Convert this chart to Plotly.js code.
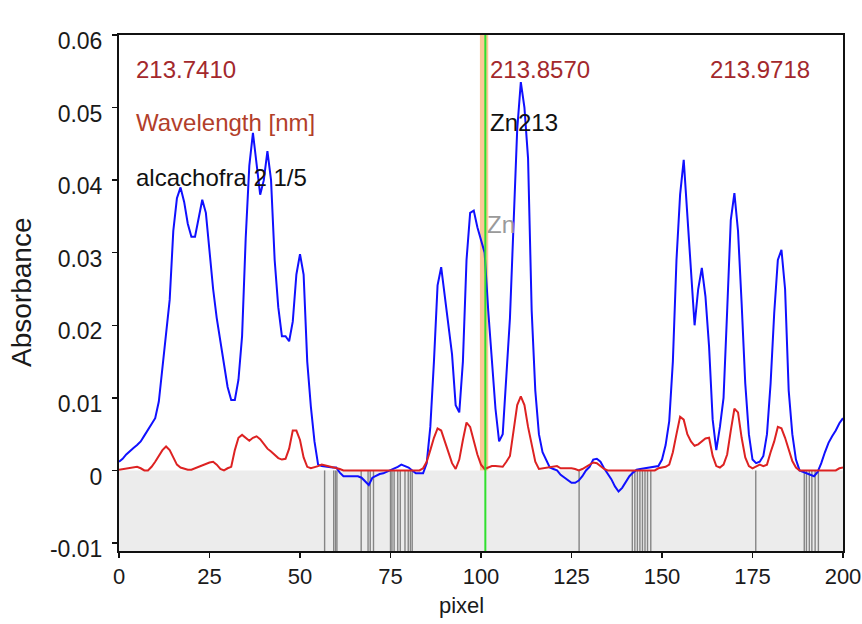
<!DOCTYPE html>
<html>
<head>
<meta charset="utf-8">
<script src="https://cdn.plot.ly/plotly-3.0.1.min.js"></script>
<style>
  html, body { margin: 0; padding: 0; background: #fff; }
  #chart { width: 862px; height: 624px; }
</style>
</head>
<body>
<div id="chart"></div>
<script>
// Detector pixel index 0..200
const pixels = Array.from({length: 201}, (_, i) => i);

// Sample spectrum (blue), absorbance per pixel
const sampleAbs = [
  0.0012, 0.0016, 0.0022, 0.0027, 0.0031, 0.0035, 0.0040, 0.0048, 0.0056, 0.0063,
  0.0072, 0.0095, 0.0140, 0.0185, 0.0235, 0.0330, 0.0375, 0.0390, 0.0370, 0.0340,
  0.0322, 0.0322, 0.0350, 0.0373, 0.0355, 0.0300, 0.0250, 0.0210, 0.0180, 0.0150,
  0.0115, 0.0097, 0.0097, 0.0125, 0.0185, 0.0320, 0.0420, 0.0465, 0.0420, 0.0380,
  0.0400, 0.0440, 0.0400, 0.0290, 0.0225, 0.0185, 0.0185, 0.0178, 0.0205, 0.0270,
  0.0298, 0.0270, 0.0150, 0.0088, 0.0040, 0.0008, 0.0006, 0.0005, 0.0005, 0.0004,
  0.0004, -0.0003, -0.0008, -0.0008, -0.0009, -0.0009, -0.0008, -0.0010, -0.0015, -0.0020,
  -0.0010, -0.0007, -0.0005, -0.0004, -0.0002, 0.0000, 0.0002, 0.0005, 0.0008, 0.0006,
  0.0004, 0.0000, -0.0004, -0.0004, -0.0004, 0.0010, 0.0060, 0.0150, 0.0255, 0.0280,
  0.0240, 0.0200, 0.0160, 0.0090, 0.0080, 0.0150, 0.0290, 0.0355, 0.0358, 0.0335,
  0.0318, 0.0300, 0.0220, 0.0155, 0.0085, 0.0040, 0.0050, 0.0130, 0.0210, 0.0340,
  0.0470, 0.0535, 0.0500, 0.0430, 0.0220, 0.0110, 0.0050, 0.0025, 0.0015, 0.0004,
  0.0002, 0.0000, -0.0006, -0.0010, -0.0014, -0.0017, -0.0017, -0.0014, -0.0008, 0.0000,
  0.0005, 0.0015, 0.0016, 0.0012, 0.0003, -0.0005, -0.0012, -0.0022, -0.0029, -0.0024,
  -0.0015, -0.0008, -0.0003, 0.0001, 0.0002, 0.0003, 0.0004, 0.0004, 0.0005, 0.0006,
  0.0015, 0.0035, 0.0068, 0.0150, 0.0290, 0.0380, 0.0428, 0.0350, 0.0270, 0.0200,
  0.0250, 0.0279, 0.0240, 0.0171, 0.0070, 0.0028, 0.0060, 0.0100, 0.0220, 0.0345,
  0.0382, 0.0330, 0.0230, 0.0120, 0.0050, 0.0015, 0.0010, 0.0012, 0.0020, 0.0050,
  0.0120, 0.0217, 0.0290, 0.0304, 0.0250, 0.0110, 0.0050, 0.0015, 0.0000, -0.0002,
  -0.0003, -0.0005, -0.0008, -0.0002, 0.0010, 0.0025, 0.0038, 0.0047, 0.0055, 0.0065,
  0.0072
];

// Reference / background spectrum (red)
const referenceAbs = [
  0.0001, 0.0002, 0.0003, 0.0004, 0.0005, 0.0005, 0.0003, 0.0000, 0.0000, 0.0005,
  0.0012, 0.0020, 0.0028, 0.0033, 0.0028, 0.0018, 0.0008, 0.0004, 0.0002, 0.0001,
  0.0001, 0.0003, 0.0005, 0.0008, 0.0010, 0.0011, 0.0012, 0.0008, 0.0002, 0.0000,
  0.0003, 0.0005, 0.0028, 0.0045, 0.0049, 0.0045, 0.0041, 0.0045, 0.0047, 0.0043,
  0.0036, 0.0030, 0.0026, 0.0022, 0.0017, 0.0015, 0.0016, 0.0030, 0.0055, 0.0055,
  0.0042, 0.0018, 0.0005, 0.0003, 0.0004, 0.0006, 0.0008, 0.0007, 0.0006, 0.0005,
  0.0004, 0.0002, 0.0000, 0.0000, 0.0000, 0.0000, 0.0000, 0.0000, 0.0000, 0.0000,
  0.0000, 0.0000, 0.0000, 0.0000, 0.0000, 0.0000, 0.0000, 0.0000, 0.0000, 0.0000,
  0.0000, 0.0000, 0.0000, 0.0000, 0.0003, 0.0012, 0.0028, 0.0045, 0.0058, 0.0055,
  0.0040, 0.0026, 0.0010, 0.0002, 0.0015, 0.0042, 0.0066, 0.0060, 0.0042, 0.0022,
  0.0008, 0.0002, 0.0004, 0.0006, 0.0006, 0.0005, 0.0005, 0.0012, 0.0020, 0.0055,
  0.0090, 0.0102, 0.0090, 0.0060, 0.0035, 0.0012, 0.0002, 0.0003, 0.0003, 0.0004,
  0.0005, 0.0006, 0.0003, 0.0003, 0.0004, 0.0003, 0.0002, 0.0000, 0.0002, 0.0005,
  0.0008, 0.0011, 0.0010, 0.0006, 0.0002, 0.0000, 0.0000, 0.0000, 0.0000, 0.0000,
  0.0000, 0.0000, 0.0000, 0.0000, 0.0000, 0.0000, 0.0000, 0.0000, 0.0000, 0.0003,
  0.0004, 0.0005, 0.0008, 0.0025, 0.0050, 0.0074, 0.0070, 0.0050, 0.0040, 0.0034,
  0.0036, 0.0040, 0.0044, 0.0045, 0.0020, 0.0006, 0.0004, 0.0008, 0.0022, 0.0055,
  0.0085, 0.0080, 0.0045, 0.0018, 0.0006, 0.0003, 0.0005, 0.0008, 0.0006, 0.0008,
  0.0025, 0.0040, 0.0060, 0.0058, 0.0045, 0.0028, 0.0013, 0.0004, 0.0000, 0.0000,
  0.0000, 0.0000, 0.0000, 0.0000, 0.0000, 0.0000, 0.0000, 0.0000, 0.0000, 0.0003,
  0.0004
];

// Pixels flagged for baseline correction (grey markers below zero)
const baselinePixels = [
  56.8, 59.3, 59.8, 60.2, 66.9, 68.8, 69.4, 70.3, 75.0, 75.4, 76.0, 77.0, 77.7,
  79.0, 79.9, 80.5, 81.0, 127.1, 141.8, 142.5, 143.2, 143.9, 144.6, 145.3, 146.0,
  146.9, 175.9, 189.3, 189.9, 190.7, 191.4, 192.3, 193.2
];

// Analytical line position and its evaluation window
const linePixel = 101.2;
const lineWindow = [99.7, 102.0];

const yTickVals = [-0.01, 0, 0.01, 0.02, 0.03, 0.04, 0.05, 0.06];
const yTickText = ['-0.01', '0', '0.01', '0.02', '0.03', '0.04', '0.05', '0.06'];
const xTickVals = [0, 25, 50, 75, 100, 125, 150, 175, 200];

const yMin = -0.0111, yMax = 0.06;

// Build the baseline marker segments as one trace with gaps
const bx = [], by = [];
baselinePixels.forEach(p => { bx.push(p, p, null); by.push(0, yMin, null); });

const font = 'Liberation Sans, Arial, sans-serif';
const ink = '#1a1a1a';

const traces = [
  {
    x: bx, y: by, mode: 'lines', hoverinfo: 'skip',
    line: {color: '#858585', width: 1.4}
  },
  {
    x: pixels, y: sampleAbs, mode: 'lines',
    line: {color: '#1010ff', width: 2}
  },
  {
    x: pixels, y: referenceAbs, mode: 'lines',
    line: {color: '#dd2222', width: 2}
  }
];

const darkRed = '#a3282c';

// Text labels placed in paper coordinates of the plotting area
const labels = [
  {text: '213.7410', x: 0.021, y: 0.934, color: darkRed, size: 24},
  {text: 'Wavelength [nm]', x: 0.021, y: 0.8295, color: '#b23e2a', size: 24},
  {text: 'alcachofra 2 1/5', x: 0.021, y: 0.7248, color: '#111', size: 24},
  {text: '213.8570', x: 0.510, y: 0.934, color: darkRed, size: 24},
  {text: 'Zn213', x: 0.510, y: 0.8295, color: '#111', size: 24},
  {text: '213.9718', x: 0.814, y: 0.934, color: darkRed, size: 24},
  {text: 'Zn', x: 0.506, y: 0.6318, color: '#9a9a9a', size: 24}
];

const annotations = labels.map(a => ({
  text: a.text, x: a.x, y: a.y, xref: 'paper', yref: 'paper',
  xanchor: 'left', yanchor: 'middle', showarrow: false,
  font: {family: font, size: a.size, color: a.color}
}));

// Axis titles
annotations.push({
  text: 'pixel', x: 0.4724, y: -0.1047, xref: 'paper', yref: 'paper',
  xanchor: 'center', yanchor: 'middle', showarrow: false,
  font: {family: font, size: 22, color: ink}
});
annotations.push({
  text: 'Absorbance', x: -0.134, y: 0.502, xref: 'paper', yref: 'paper',
  xanchor: 'center', yanchor: 'middle', showarrow: false, textangle: -90,
  font: {family: font, size: 28, color: ink}
});

const layout = {
  width: 862, height: 624,
  margin: {l: 119, r: 19, t: 35, b: 73},
  paper_bgcolor: '#ffffff',
  plot_bgcolor: '#ffffff',
  showlegend: false,
  font: {family: font, color: ink},
  xaxis: {
    range: [0, 200],
    tickvals: xTickVals,
    ticks: 'outside', ticklen: 5, tickwidth: 1.5, tickcolor: '#111',
    tickfont: {size: 22, color: ink},
    showgrid: false, zeroline: false,
    showline: true, linecolor: '#111', linewidth: 2, mirror: true
  },
  yaxis: {
    range: [yMin, yMax],
    tickvals: yTickVals, ticktext: yTickText,
    ticks: 'outside', ticklen: 5, tickwidth: 1.5, tickcolor: '#111',
    tickfont: {size: 23, color: ink},
    ticklabelstandoff: 5,
    ticklabelshift: 6,
    showgrid: false, zeroline: false,
    showline: true, linecolor: '#111', linewidth: 2, mirror: true
  },
  shapes: [
    // shaded negative region
    {type: 'rect', xref: 'paper', x0: 0, x1: 1, yref: 'y', y0: yMin, y1: 0,
     fillcolor: '#ececec', line: {width: 0}, layer: 'below'},
    // evaluation window around the analytical line
    {type: 'rect', xref: 'x', x0: lineWindow[0], x1: lineWindow[1], yref: 'y', y0: 0, y1: yMax,
     fillcolor: '#fcc896', line: {width: 0}, layer: 'below'},
    // analytical line marker
    {type: 'line', xref: 'x', x0: linePixel, x1: linePixel, yref: 'paper', y0: 0, y1: 1,
     line: {color: '#2ee02e', width: 2}}
  ],
  annotations: annotations
};

Plotly.newPlot('chart', traces, layout, {staticPlot: true, displayModeBar: false});
</script>
</body>
</html>
